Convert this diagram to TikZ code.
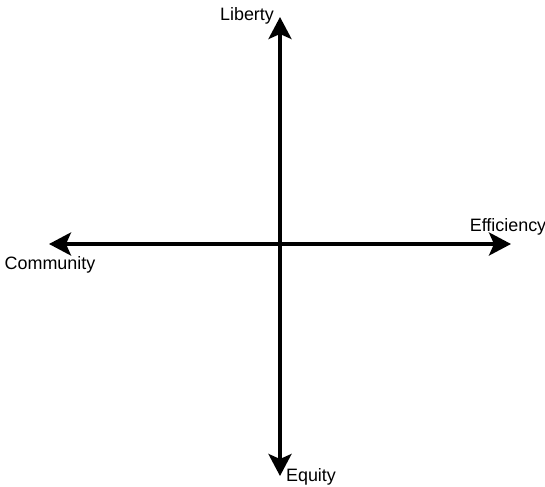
\documentclass[tikz,border=0pt]{standalone}
\usepackage{fontspec}
\setmainfont{Liberation Sans}
\usetikzlibrary{arrows.meta,positioning}

\begin{document}
\begin{tikzpicture}[x=0.02cm, y=-0.02cm,
  axis/.style={line width=2pt, {Stealth[length=0.44cm,width=0.46cm,inset=0.1cm]}-{Stealth[length=0.44cm,width=0.46cm,inset=0.1cm]}},
  lbl/.style={font=\fontsize{10.2}{12}\selectfont, inner sep=0pt}]
\useasboundingbox (0,0) rectangle (545,487);
% --- assi ---
\coordinate (top) at (280,17);
\coordinate (bottom) at (280,476);
\coordinate (left) at (49,244);
\coordinate (right) at (511,244);
\draw[axis] (bottom) -- (top);
\draw[axis] (left) -- (right);
% --- etichette ---
\node[lbl] (liberty) at (247,16) {Liberty};
\node[lbl] (equity) at (311,477) {Equity};
\node[lbl] (community) at (50,265) {Community};
\node[lbl] (efficiency) at (508,227) {Efficiency};
\end{tikzpicture}
\end{document}
